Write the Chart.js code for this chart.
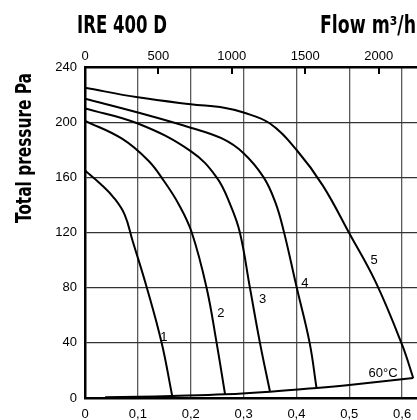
<!DOCTYPE html>
<html>
<head>
<meta charset="utf-8">
<script src="https://cdn.jsdelivr.net/npm/chart.js@4.4.1/dist/chart.umd.min.js"></script>
<style>
  html, body { margin: 0; padding: 0; background: #fff; overflow: hidden; }
  canvas { display: block; }
</style>
</head>
<body>
<canvas id="fanChart" width="430" height="420"></canvas>
<script>
const fanChart = document.getElementById("fanChart").getContext("2d");

// curve data: flow in m3/s, total pressure in Pa
const flow1 = [0, 0.03, 0.055, 0.075, 0.09, 0.117, 0.145, 0.165];
const pres1 = [165, 155, 145, 133, 114, 80, 40, 1.5];

const flow2 = [0, 0.07, 0.12, 0.15, 0.178, 0.202, 0.23, 0.249, 0.265];
const pres2 = [201, 188, 172, 157, 140, 120, 80, 40, 2.7];

const flow3 = [0, 0.1, 0.2, 0.249, 0.275, 0.293, 0.312, 0.331, 0.35];
const pres3 = [210, 199, 179, 160, 140, 120, 80, 40, 4.6];

const flow4 = [0, 0.1, 0.2, 0.26, 0.3, 0.338, 0.36, 0.376, 0.4, 0.425, 0.438];
const pres4 = [217, 207, 196, 188, 177.5, 160, 142, 121, 81, 40, 7.3];

const flow5 = [0, 0.1, 0.2, 0.263, 0.3, 0.35, 0.4, 0.45, 0.5, 0.55, 0.6, 0.621];
const pres5 = [225, 218, 213, 210.5, 207, 199, 180, 154, 119.5, 84, 38.5, 14.5];

// 60°C limit curve along the bottom
const flowLimit = [0.038, 0.1, 0.165, 0.265, 0.35, 0.438, 0.5, 0.621];
const presLimit = [0.5, 0.9, 1.5, 2.7, 4.6, 7.3, 9.5, 14.5];

// curve labels, anchored in data units
const labelText = ["1", "2", "3", "4", "5", "60°C"];
const labelFlow = [0.149, 0.257, 0.336, 0.416, 0.547, 0.564];
const labelPres = [44, 61, 71.5, 83, 100, 18];

const flowMax = 0.63;           // m3/s shown on the bottom axis
const presTicks = [0, 240, 40]; // min, max, step
const m3hStep = 500;            // top axis step, m3/h

const toPoints = (xs, ys) => xs.map((v, i) => ({ x: v, y: ys[i] }));

function curve(xs, ys) {
  return {
    data: toPoints(xs, ys),
    borderColor: "#000",
    borderWidth: 2,
    pointRadius: 0,
    fill: false,
    tension: 0.4,
  };
}

const sansFont = '"Liberation Sans", Arial, sans-serif';
const narrowFont = '"Liberation Sans Narrow", "DejaVu Sans Condensed", "DejaVu Sans", sans-serif';

// draw text squeezed to a given width (the original uses a condensed face)
function squeezed(ctx, text, x, y, width) {
  const w = ctx.measureText(text).width;
  ctx.save();
  ctx.translate(x, y);
  ctx.scale(width / w, 1);
  ctx.fillText(text, 0, 0);
  ctx.restore();
}

const textPlugin = {
  id: "texts",
  afterDraw(chart) {
    const { ctx, scales } = chart;
    const x = scales.x, y = scales.y, x2 = scales.x2;
    ctx.save();
    ctx.fillStyle = "#000";

    // inner tick marks of the m3/h axis
    ctx.strokeStyle = "#000";
    ctx.lineWidth = 2;
    x2.ticks.forEach((t) => {
      if (t.value === 0) return;
      const px = Math.round(x2.getPixelForValue(t.value));
      ctx.beginPath();
      ctx.moveTo(px, chart.chartArea.top);
      ctx.lineTo(px, chart.chartArea.top + 7);
      ctx.stroke();
    });

    ctx.font = "13px " + sansFont;
    ctx.textAlign = "center";
    ctx.textBaseline = "middle";
    labelText.forEach((t, i) => {
      ctx.fillText(t, x.getPixelForValue(labelFlow[i]), y.getPixelForValue(labelPres[i]));
    });

    ctx.font = "bold 24px " + narrowFont;
    ctx.textBaseline = "alphabetic";
    ctx.textAlign = "left";
    squeezed(ctx, "IRE 400 D", 77, 33, 90);
    squeezed(ctx, "Flow m³/h", 320, 33, 96);

    ctx.translate(31, 223);
    ctx.rotate(-Math.PI / 2);
    ctx.font = "bold 22px " + narrowFont;
    squeezed(ctx, "Total pressure Pa", 0, 0, 150);
    ctx.restore();
  },
};

new Chart(fanChart, {
  type: "line",
  data: {
    datasets: [
      curve(flow1, pres1),
      curve(flow2, pres2),
      curve(flow3, pres3),
      curve(flow4, pres4),
      curve(flow5, pres5),
      curve(flowLimit, presLimit),
    ],
  },
  options: {
    responsive: false,
    animation: false,
    layout: { padding: { left: 0, top: 0, right: 12, bottom: 0 } },
    plugins: { legend: { display: false }, tooltip: { enabled: false } },
    scales: {
      x: {
        type: "linear",
        position: "bottom",
        min: 0,
        max: flowMax,
        afterFit: (s) => { s.height = 22; },
        ticks: {
          stepSize: 0.1,
          includeBounds: false,
          padding: 9,
          color: "#000",
          font: { size: 13, family: sansFont },
          callback: (v) => (v === 0 ? "0" : v.toFixed(1).replace(".", ",")),
        },
        grid: { color: "#5a5a5a", lineWidth: 1.3, drawTicks: false },
        border: { display: true, color: "#000", width: 2.5 },
      },
      x2: {
        // same m3/s range, labelled in m3/h
        type: "linear",
        position: "top",
        min: 0,
        max: flowMax,
        afterFit: (s) => { s.height = 67; },
        ticks: {
          stepSize: m3hStep / 3600,
          includeBounds: false,
          padding: 3,
          color: "#000",
          font: { size: 13, family: sansFont },
          callback: (v) => String(Math.round(v * 3600)),
        },
        grid: { drawOnChartArea: false, drawTicks: false },
        border: { display: true, color: "#000", width: 2.5 },
      },
      y: {
        min: presTicks[0],
        max: presTicks[1],
        afterFit: (s) => { s.width = 85; },
        ticks: {
          stepSize: presTicks[2],
          padding: 8,
          color: "#000",
          font: { size: 13, family: sansFont },
        },
        grid: { color: "#333", lineWidth: 1.2, drawTicks: false },
        border: { display: true, color: "#000", width: 2.5 },
      },
    },
  },
  plugins: [textPlugin],
});
</script>
</body>
</html>
